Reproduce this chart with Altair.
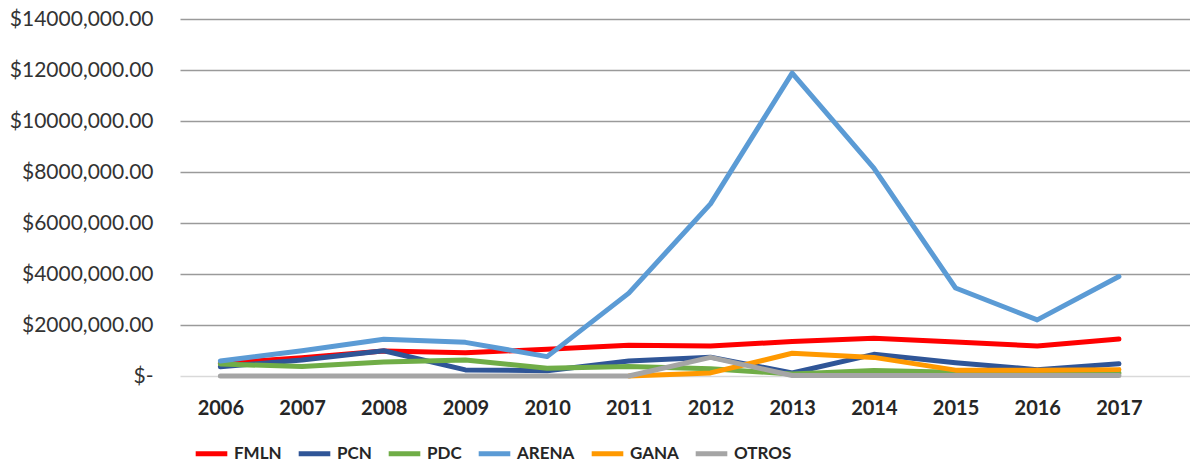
import altair as alt
import pandas as pd

years = list(range(2006, 2018))
parties = ["FMLN", "PCN", "PDC", "ARENA", "GANA", "OTROS"]
colors = ["#FF0000", "#2F5597", "#70AD47", "#5B9BD5", "#FF9900", "#A5A5A5"]

fmln = [500000, 720000, 980000, 910000, 1050000, 1210000, 1180000, 1350000, 1480000, 1330000, 1180000, 1450000]
pcn = [360000, 630000, 990000, 240000, 210000, 590000, 740000, 120000, 850000, 520000, 250000, 480000]
pdc = [470000, 370000, 550000, 630000, 300000, 370000, 280000, 80000, 220000, 150000, 120000, 120000]
arena = [590000, 990000, 1440000, 1320000, 760000, 3250000, 6750000, 11880000, 8150000, 3450000, 2200000, 3900000]
gana = [None, None, None, None, None, 0, 120000, 890000, 730000, 230000, 230000, 250000]
otros = [0, 0, 0, 0, 0, 0, 730000, 20000, 20000, 20000, 20000, 20000]

y_ticks = [0, 2000000, 4000000, 6000000, 8000000, 10000000, 12000000, 14000000]

series = dict(zip(parties, [fmln, pcn, pdc, arena, gana, otros]))
rows = []
for i, p in enumerate(parties):
    for yr, v in zip(years, series[p]):
        if v is not None:
            rows.append({"year": yr, "party": p, "value": v, "order": i})
df = pd.DataFrame(rows)

chart = alt.Chart(df).mark_line(strokeWidth=5, strokeCap="round", strokeJoin="round").encode(
    x=alt.X("year:Q",
            scale=alt.Scale(domain=[2005.506, 2017.87], nice=False, zero=False),
            axis=alt.Axis(values=years, format="d", title=None, grid=False, domain=False, ticks=False,
                          labelFont="Lato", labelFontWeight="bold", labelFontSize=20, labelColor="#262626",
                          labelPadding=22, labelFlush=False)),
    y=alt.Y("value:Q",
            scale=alt.Scale(domain=[0, 14000000], nice=False),
            axis=alt.Axis(values=y_ticks, title=None, domain=False, ticks=False,
                          labelExpr="datum.value == 0 ? '$-\u00a0\u00a0\u00a0' : '$' + format(datum.value/1000, 'd') + ',000.00'",
                          labelFont="Lato", labelFontSize=21, labelColor="#333333", labelPadding=27,
                          gridColor={"condition": {"test": "datum.value === 0", "value": "#D9D9D9"}, "value": "#9A9A9A"},
                          gridWidth=1.5)),
    color=alt.Color("party:N", scale=alt.Scale(domain=parties, range=colors),
                    legend=alt.Legend(title=None, orient="none", direction="horizontal", legendX=13, legendY=416,
                                      symbolType="stroke", symbolStrokeWidth=5, symbolSize=1000,
                                      labelFont="Lato",
                                      labelFontWeight="bold", labelFontSize=17, labelColor="#262626",
                                      labelOffset=4, columnPadding=6, padding=0)),
    order=alt.Order("order:Q"),
    detail="party:N",
).properties(
    width=1010, height=357,
    autosize=alt.AutoSizeParams(type="none"),
    padding={"left": 172, "top": 11, "right": 0, "bottom": 87},
).configure_view(stroke=None)

chart.save("out.html", embed_options={"renderer": "svg", "actions": False})
